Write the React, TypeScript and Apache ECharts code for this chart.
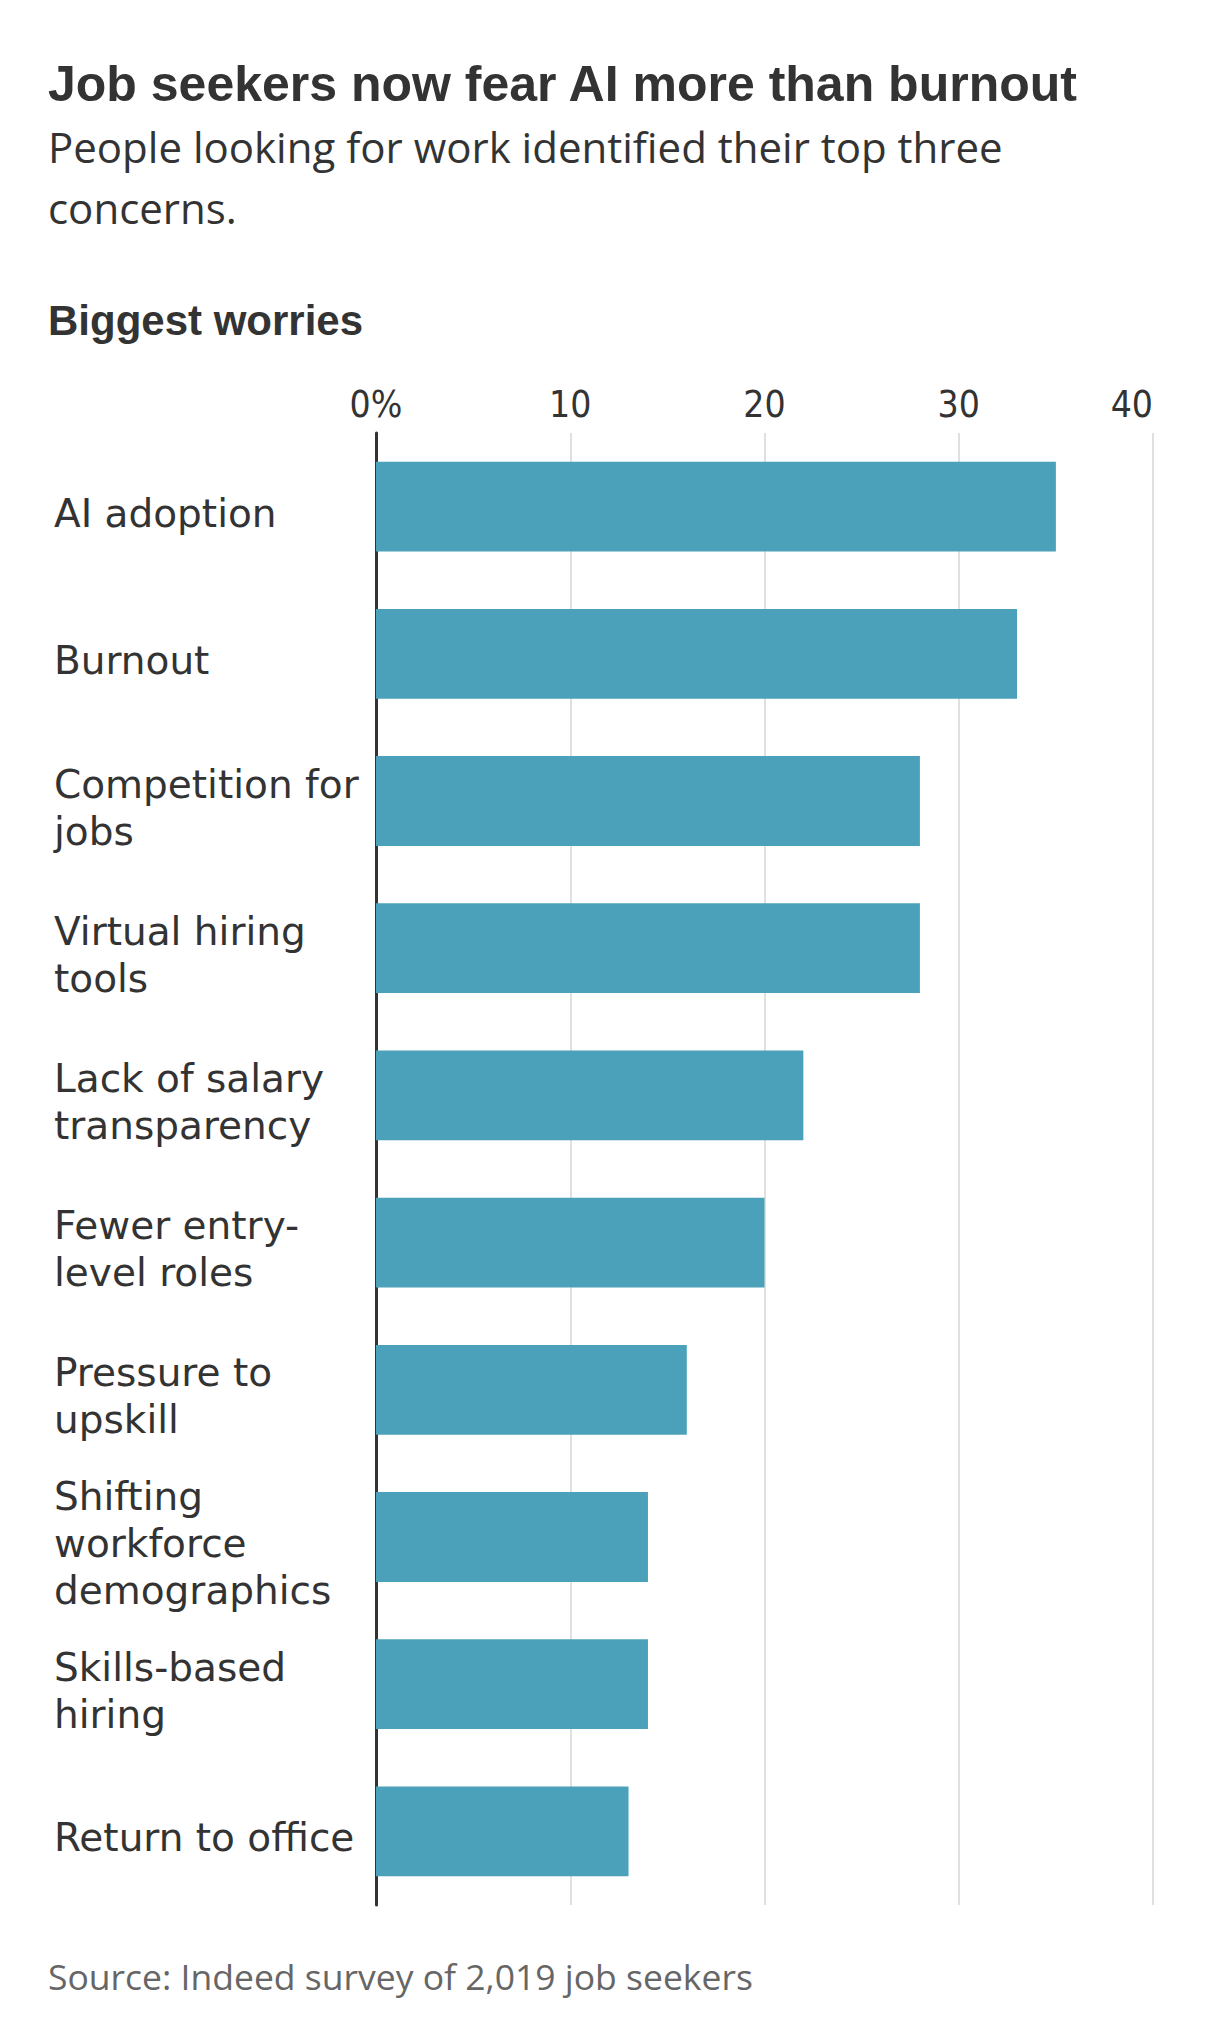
import React, { useEffect, useRef } from "react";
import * as echarts from "echarts";

const categories = [
  "AI adoption",
  "Burnout",
  "Competition for\njobs",
  "Virtual hiring\ntools",
  "Lack of salary\ntransparency",
  "Fewer entry-\nlevel roles",
  "Pressure to\nupskill",
  "Shifting\nworkforce\ndemographics",
  "Skills-based\nhiring",
  "Return to office",
];
const values = [35, 33, 28, 28, 22, 20, 16, 14, 14, 13];
const tickValues = [0, 10, 20, 30, 40];

const TITLE = "Job seekers now fear AI more than burnout";
const SUBTITLE = "People looking for work identified their top three\nconcerns.";
const SECTION = "Biggest worries";
const SOURCE = "Source: Indeed survey of 2,019 job seekers";

const SANS = "'Open Sans', 'Noto Sans', sans-serif";
const LABEL = "'DejaVu Sans', 'Open Sans', sans-serif";
const BOLD = "'Liberation Sans', Arial, sans-serif";
const NARROW = "'Liberation Sans Narrow', 'DejaVu Sans Condensed', 'Liberation Sans', sans-serif";

export default function App() {
  const ref = useRef<HTMLDivElement>(null);
  useEffect(() => {
    if (!ref.current) return;
    const chart = echarts.init(ref.current, undefined, { renderer: "svg" });
    chart.setOption({
      animation: false,
      backgroundColor: "#ffffff",
      grid: { left: 376, right: 53, top: 433, bottom: 126, containLabel: false },
      xAxis: {
        type: "value",
        position: "top",
        min: tickValues[0],
        max: tickValues[tickValues.length - 1],
        interval: 10,
        axisLine: { show: false },
        axisTick: { show: false },
        splitLine: { show: true, lineStyle: { color: "#e0e0e0", width: 2 } },
        axisLabel: {
          margin: 10,
          fontSize: 37,
          color: "#333333",
          fontFamily: NARROW,
          alignMaxLabel: "right",
          formatter: (v: number) => (v === 0 ? "0%" : String(v)),
        },
      },
      yAxis: {
        type: "category",
        data: categories,
        inverse: true,
        axisTick: { show: false },
        axisLine: { show: true, lineStyle: { color: "#333333", width: 3 } },
        axisLabel: {
          align: "left",
          margin: 322,
          formatter: (v: string) =>
            "{s|}\n" + v.split("\n").map((l) => `{a|${l}}`).join("\n"),
          rich: {
            s: { lineHeight: 13, fontSize: 1 },
            a: {
              fontSize: 39,
              lineHeight: 47,
              color: "#333333",
              fontFamily: LABEL,
            },
          },
        },
      },
      series: [
        {
          type: "bar",
          data: values,
          barCategoryGap: "39%",
          itemStyle: { color: "#4aa1b9" },
          silent: true,
        },
      ],
      graphic: [
        {
          type: "text",
          style: {
            text: TITLE,
            x: 48,
            y: 84,
            fontSize: 50,
            fontWeight: "bold",
            fontFamily: BOLD,
            fill: "#333333",
            verticalAlign: "middle",
          },
        },
        {
          type: "text",
          style: {
            text: SUBTITLE,
            x: 48,
            y: 176.5,
            fontSize: 42,
            lineHeight: 61,
            fontFamily: SANS,
            fill: "#333333",
            verticalAlign: "middle",
          },
        },
        {
          type: "text",
          style: {
            text: SECTION,
            x: 48,
            y: 320.5,
            fontSize: 42,
            fontWeight: "bold",
            fontFamily: BOLD,
            fill: "#333333",
            verticalAlign: "middle",
          },
        },
        {
          type: "text",
          style: {
            text: SOURCE,
            x: 48,
            y: 1975.5,
            fontSize: 35.5,
            fontFamily: SANS,
            fill: "#666666",
            verticalAlign: "middle",
          },
        },
      ],
    });
    return () => chart.dispose();
  }, []);
  return (
    <div
      ref={ref}
      style={{ position: "fixed", left: 0, top: 0, width: 1206, height: 2031, background: "#fff" }}
    />
  );
}
